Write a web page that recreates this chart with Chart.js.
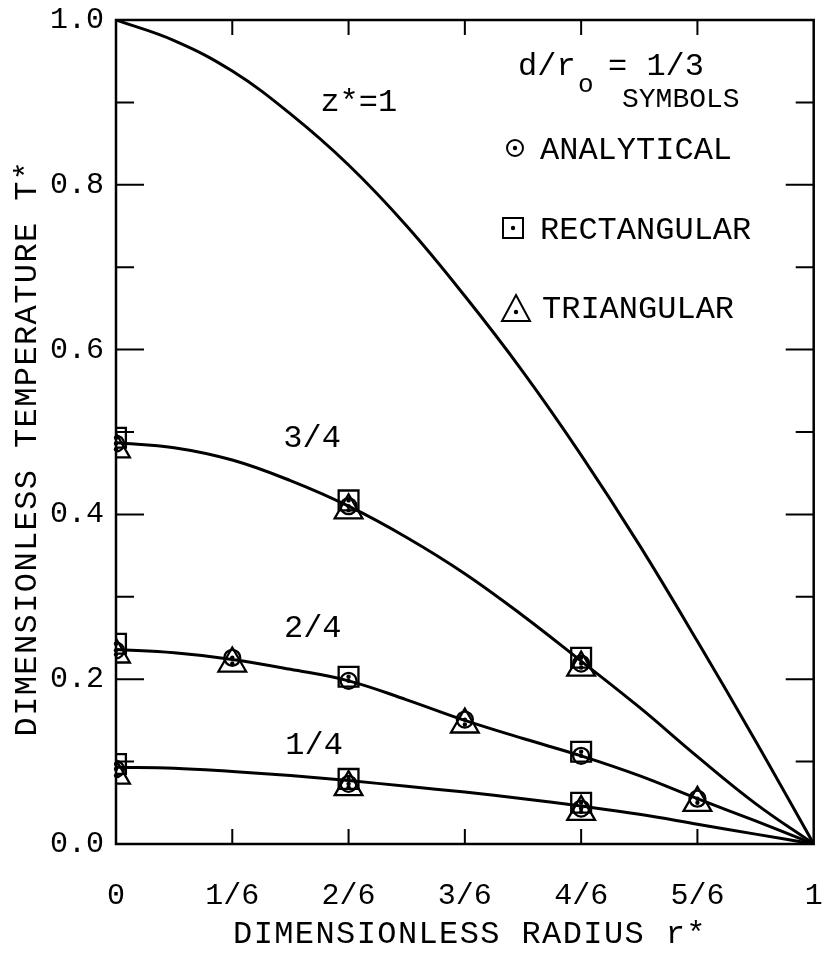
<!DOCTYPE html>
<html>
<head>
<meta charset="utf-8">
<script src="https://cdn.jsdelivr.net/npm/chart.js@4.4.0/dist/chart.umd.min.js"></script>
<style>
  html, body { margin: 0; padding: 0; background: #fff; }
  #wrap { width: 832px; height: 962px; }
</style>
</head>
<body>
<div id="wrap"><canvas id="chart" width="832" height="962"></canvas></div>
<script>
const rGrid = [0, 1/12, 2/12, 3/12, 4/12, 5/12, 6/12, 7/12, 8/12, 9/12, 10/12, 11/12, 1];
const curveZ1  = [1.0, 0.975, 0.938, 0.886, 0.824, 0.75, 0.665, 0.573, 0.472, 0.363, 0.246, 0.125, 0.0];
const curveZ34 = [0.487, 0.481, 0.466, 0.441, 0.41, 0.372, 0.328, 0.277, 0.222, 0.166, 0.106, 0.049, 0.0];
const curveZ24 = [0.236, 0.232, 0.224, 0.212, 0.198, 0.175, 0.15, 0.128, 0.107, 0.083, 0.055, 0.028, 0.0];
const curveZ14 = [0.093, 0.092, 0.088, 0.083, 0.077, 0.07, 0.063, 0.055, 0.046, 0.036, 0.024, 0.012, 0.0];

// symbol positions (r* = 0 .. 5/6), null = no symbol
const markerR = [0, 1/6, 2/6, 3/6, 4/6, 5/6];
const analytical34 = [0.486, null, 0.41, null, 0.219, null];
const analytical24 = [0.235, 0.226, 0.198, 0.151, 0.107, 0.055];
const analytical14 = [0.091, null, 0.073, null, 0.043, null];
const rectangular34 = [0.493, null, 0.417, null, 0.226, null];
const rectangular24 = [0.243, null, 0.203, null, 0.112, null];
const rectangular14 = [0.097, null, 0.079, null, 0.05, null];
const triangular34 = [0.479, null, 0.405, null, 0.214, null];
const triangular24 = [0.23, 0.219, null, 0.145, null, 0.05];
const triangular14 = [0.083, null, 0.069, null, 0.039, null];

const xTickVals = [0, 1/6, 2/6, 3/6, 4/6, 5/6, 1];
const xTickLabels = ['0', '1/6', '2/6', '3/6', '4/6', '5/6', '1'];
const yTickVals = [0, 0.2, 0.4, 0.6, 0.8, 1.0];
const yTickLabels = ['0.0', '0.2', '0.4', '0.6', '0.8', '1.0'];
const curveNames = ['z*=1', '3/4', '2/4', '1/4'];
const symbolNames = ['ANALYTICAL', 'RECTANGULAR', 'TRIANGULAR'];

const MONO = '"Liberation Mono", "Courier New", monospace';

function toPts(xs, ys) {
  const out = [];
  xs.forEach((x, i) => { if (ys[i] !== null) out.push({ x: x, y: ys[i] }); });
  return out;
}

function curve(vals) {
  return {
    type: 'line', data: toPts(rGrid, vals), borderColor: '#000', borderWidth: 3,
    pointRadius: 0, tension: 0.4, fill: false, order: 2
  };
}

function symbols(vals, style, radius) {
  return {
    type: 'scatter', data: toPts(markerR, vals), isMarker: true,
    pointStyle: style, pointRadius: radius, pointHoverRadius: radius,
    borderColor: '#000', borderWidth: 2.3, backgroundColor: 'rgba(0,0,0,0)', order: 1
  };
}

function noPad(s) {
  s.paddingTop = 0; s.paddingBottom = 0; s.paddingLeft = 0; s.paddingRight = 0;
}

// frame, inward ticks, labels and the key
const decorations = {
  id: 'decorations',
  afterDatasetsDraw(chart) {
    const ctx = chart.ctx;
    ctx.save();
    ctx.fillStyle = '#000';
    chart.data.datasets.forEach((ds, i) => {
      if (!ds.isMarker) return;
      chart.getDatasetMeta(i).data.forEach(p => {
        ctx.beginPath();
        ctx.arc(p.x, p.y, 2.2, 0, Math.PI * 2);
        ctx.fill();
      });
    });
    ctx.restore();
  },
  afterDraw(chart) {
    const ctx = chart.ctx;
    const a = chart.chartArea;
    const xs = chart.scales.x, ys = chart.scales.y;
    ctx.save();
    ctx.strokeStyle = '#000';
    ctx.fillStyle = '#000';
    ctx.lineWidth = 2.5;
    ctx.strokeRect(a.left, a.top, a.right - a.left, a.bottom - a.top);

    ctx.lineWidth = 2;
    ctx.beginPath();
    for (let k = 1; k < 10; k++) {
      const y = ys.getPixelForValue(k / 10);
      const len = k % 2 === 0 ? 28 : 18;
      ctx.moveTo(a.left, y); ctx.lineTo(a.left + len, y);
      ctx.moveTo(a.right, y); ctx.lineTo(a.right - len, y);
    }
    for (let k = 1; k < 6; k++) {
      const x = xs.getPixelForValue(k / 6);
      ctx.moveTo(x, a.bottom); ctx.lineTo(x, a.bottom - 15);
      ctx.moveTo(x, a.top); ctx.lineTo(x, a.top + 15);
    }
    ctx.stroke();

    // axis titles, typewriter spacing
    ctx.font = '32px ' + MONO;
    ctx.textAlign = 'center';
    ctx.textBaseline = 'middle';
    ctx.letterSpacing = '1.4px';
    ctx.fillText('DIMENSIONLESS RADIUS r*', 470, 935);
    ctx.save();
    ctx.translate(28, 448);
    ctx.rotate(-Math.PI / 2);
    ctx.fillText('DIMENSIONLESS TEMPERATURE T*', 0, 0);
    ctx.restore();
    ctx.letterSpacing = '0px';

    // curve labels
    const labelAt = [[0.348, 0.9], [0.281, 0.4915], [0.282, 0.261], [0.284, 0.12]];
    curveNames.forEach((t, i) => {
      ctx.fillText(t, xs.getPixelForValue(labelAt[i][0]), ys.getPixelForValue(labelAt[i][1]));
    });

    // key
    ctx.textAlign = 'left';
    ctx.textBaseline = 'alphabetic';
    ctx.fillText('d/r', 518, 75);
    ctx.font = '26px ' + MONO;
    ctx.fillText('o', 578, 92);
    ctx.font = '32px ' + MONO;
    ctx.fillText('= 1/3', 608, 75);
    ctx.font = '28px ' + MONO;
    ctx.fillText('SYMBOLS', 622, 107);
    ctx.font = '32px ' + MONO;
    ctx.fillText(symbolNames[0], 540, 159);
    ctx.fillText(symbolNames[1], 540, 239);
    ctx.fillText(symbolNames[2], 542, 318);

    ctx.lineWidth = 2;
    ctx.beginPath();
    ctx.arc(515, 148, 8, 0, Math.PI * 2);
    ctx.stroke();
    ctx.strokeRect(503, 218, 20, 20);
    ctx.beginPath();
    ctx.moveTo(516, 295); ctx.lineTo(530, 321); ctx.lineTo(502, 321); ctx.closePath();
    ctx.stroke();
    [[515, 148], [513, 228], [516, 312]].forEach(p => {
      ctx.beginPath();
      ctx.arc(p[0], p[1], 2.2, 0, Math.PI * 2);
      ctx.fill();
    });
    ctx.restore();
  }
};

const ctx = document.getElementById('chart').getContext('2d');
new Chart(ctx, {
  data: {
    datasets: [
      curve(curveZ1), curve(curveZ34), curve(curveZ24), curve(curveZ14),
      symbols(triangular34, 'triangle', 16), symbols(triangular24, 'triangle', 16), symbols(triangular14, 'triangle', 16),
      symbols(rectangular34, 'rect', 14), symbols(rectangular24, 'rect', 14), symbols(rectangular14, 'rect', 14),
      symbols(analytical34, 'circle', 8), symbols(analytical24, 'circle', 8), symbols(analytical14, 'circle', 8)
    ]
  },
  options: {
    responsive: false,
    animation: false,
    events: [],
    layout: { padding: { top: 20, right: 11, left: 0, bottom: 0 } },
    plugins: { legend: { display: false }, tooltip: { enabled: false } },
    scales: {
      x: {
        type: 'linear', min: 0, max: 1,
        afterBuildTicks: s => { s.ticks = xTickVals.map(v => ({ value: v })); },
        afterFit: s => { s.height = 118; noPad(s); },
        grid: { drawOnChartArea: false, drawTicks: false },
        border: { display: false },
        ticks: {
          color: '#000', padding: 34, maxRotation: 0, autoSkip: false,
          font: { family: MONO, size: 30 },
          callback: (v, i) => xTickLabels[i]
        }
      },
      y: {
        type: 'linear', min: 0, max: 1,
        afterBuildTicks: s => { s.ticks = yTickVals.map(v => ({ value: v })); },
        afterFit: s => { s.width = 116; noPad(s); },
        grid: { drawOnChartArea: false, drawTicks: false },
        border: { display: false },
        ticks: {
          color: '#000', padding: 12, autoSkip: false,
          font: { family: MONO, size: 30 },
          callback: (v, i) => yTickLabels[i]
        }
      }
    }
  },
  plugins: [decorations]
});
</script>
</body>
</html>
